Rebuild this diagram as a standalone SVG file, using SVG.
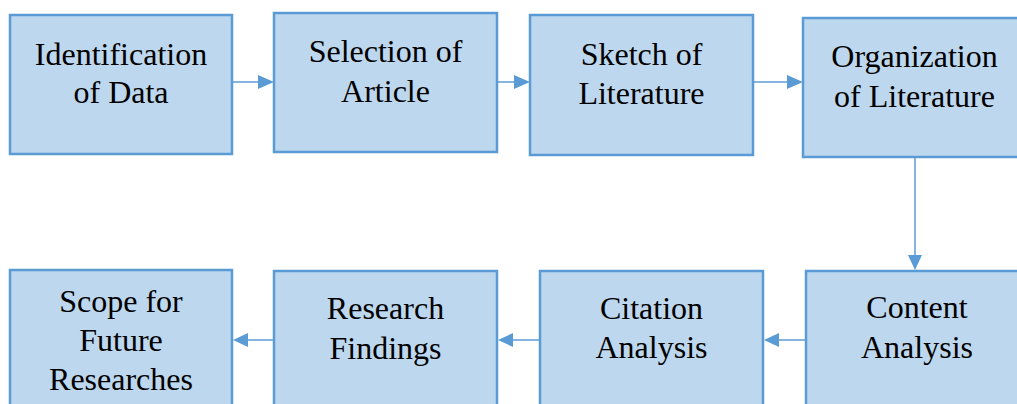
<svg xmlns="http://www.w3.org/2000/svg" width="1017" height="404" viewBox="0 0 1017 404" font-family="Times New Roman">
<style>
.box{fill:#BDD7EE;stroke:#5B9BD5;stroke-width:2.5}
.lbl{font-size:32px;fill:#000;text-anchor:middle}
.conn{stroke:#5B9BD5;stroke-width:1.5;fill:none}
.head{fill:#5B9BD5}
</style>
<rect width="1017" height="404" fill="#fff"/>
<g id="n1" font-family="Times New Roman"><rect class="box" x="10" y="15" width="222" height="139"/><text class="lbl" x="121" y="65">Identification</text><text class="lbl" x="121" y="103">of Data</text></g>
<g id="n2" font-family="Liberation Serif"><rect class="box" x="274" y="13" width="223" height="139"/><text class="lbl" x="385.5" y="62">Selection of</text><text class="lbl" x="385.5" y="102">Article</text></g>
<g id="n3" font-family="Times New Roman"><rect class="box" x="530" y="15" width="223" height="140"/><text class="lbl" x="641.5" y="65">Sketch of</text><text class="lbl" x="641.5" y="104">Literature</text></g>
<g id="n4" font-family="Liberation Serif"><rect class="box" x="803" y="18" width="223" height="139"/><text class="lbl" x="914.5" y="67">Organization</text><text class="lbl" x="914.5" y="107">of Literature</text></g>
<g id="n5" font-family="Times New Roman"><rect class="box" x="806" y="271" width="223" height="150"/><text class="lbl" x="917" y="318">Content</text><text class="lbl" x="917" y="358">Analysis</text></g>
<g id="n6" font-family="Liberation Serif"><rect class="box" x="540" y="271" width="223" height="150"/><text class="lbl" x="651.5" y="319">Citation</text><text class="lbl" x="651.5" y="358">Analysis</text></g>
<g id="n7" font-family="Times New Roman"><rect class="box" x="274" y="271" width="223" height="150"/><text class="lbl" x="385.5" y="319">Research</text><text class="lbl" x="385.5" y="359">Findings</text></g>
<g id="n8" font-family="Liberation Serif"><rect class="box" x="10" y="270" width="222" height="150"/><text class="lbl" x="121" y="312">Scope for</text><text class="lbl" x="121" y="351">Future</text><text class="lbl" x="121" y="390">Researches</text></g>
<g id="connectors">
<line class="conn" x1="233" y1="82" x2="260" y2="82"/><polygon class="head" points="274,82 258,75 258,89"/>
<line class="conn" x1="498" y1="82" x2="516" y2="82"/><polygon class="head" points="530,82 514,75 514,89"/>
<line class="conn" x1="754" y1="82" x2="789" y2="82"/><polygon class="head" points="803,82 787,75 787,89"/>
<line class="conn" x1="915" y1="158" x2="915" y2="257"/><polygon class="head" points="915,270 908,255 922,255"/>
<line class="conn" x1="805" y1="340" x2="776" y2="340"/><polygon class="head" points="764,340 779,333 779,347"/>
<line class="conn" x1="539" y1="340" x2="510" y2="340"/><polygon class="head" points="498,340 513,333 513,347"/>
<line class="conn" x1="273" y1="340" x2="245" y2="340"/><polygon class="head" points="233,340 248,333 248,347"/>
</g>
</svg>
